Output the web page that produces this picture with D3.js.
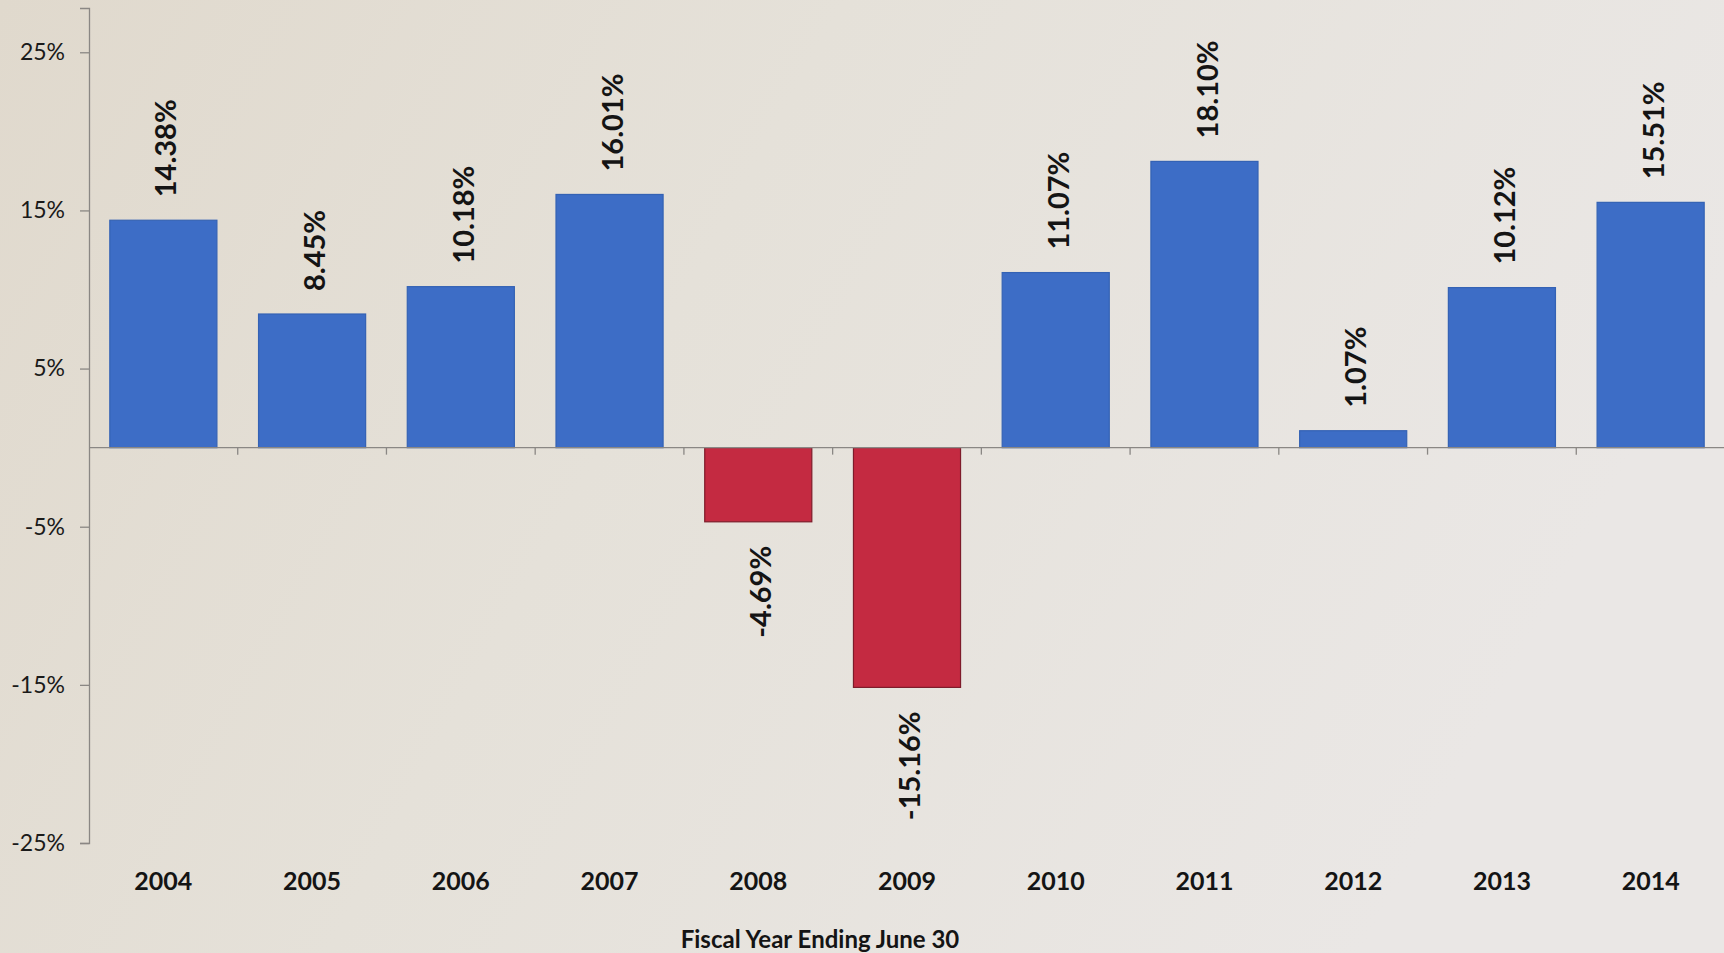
<!DOCTYPE html>
<html>
<head>
<meta charset="utf-8">
<script src="https://cdn.jsdelivr.net/npm/d3@7"></script>
<style>
  html, body { margin: 0; padding: 0; }
  body { width: 1724px; height: 953px; overflow: hidden; }
  svg { display: block; }
</style>
</head>
<body>
<svg id="chart" width="1724" height="953"></svg>
<script>
// Annual fiscal-year returns (percent)
const years = ["2004", "2005", "2006", "2007", "2008", "2009", "2010", "2011", "2012", "2013", "2014"];
const returns = [14.38, 8.45, 10.18, 16.01, -4.69, -15.16, 11.07, 18.10, 1.07, 10.12, 15.51];
const yTicks = [-25, -15, -5, 5, 15, 25];
const xTitle = "Fiscal Year Ending June 30";

const width = 1724, height = 953;
const svg = d3.select("#chart");

// Paper-like backdrop
const defs = svg.append("defs");
const grad = defs.append("linearGradient").attr("id", "bg").attr("x1", 0).attr("x2", 1).attr("y1", 0).attr("y2", 0.3);
grad.append("stop").attr("offset", "0%").attr("stop-color", "#e0d9cd");
grad.append("stop").attr("offset", "45%").attr("stop-color", "#e5e1d9");
grad.append("stop").attr("offset", "100%").attr("stop-color", "#eae7e5");
svg.append("rect").attr("width", width).attr("height", height).attr("fill", "url(#bg)");

const plotLeft = 89, plotRight = 1725;
const y = d3.scaleLinear().domain([-25, 27.8]).range([843, 8]);
const x = d3.scaleBand().domain(years).range([plotLeft, plotRight]).paddingInner(0.28).paddingOuter(0.14);

// Vertical value axis
const yAxis = svg.append("g")
  .attr("transform", `translate(${plotLeft},0)`)
  .call(d3.axisLeft(y).tickValues(yTicks).tickSize(9).tickPadding(15).tickFormat(d => d + "%"));
yAxis.select(".domain").attr("stroke", "#8a8784").attr("stroke-width", 1.3);
yAxis.selectAll(".tick line").attr("stroke", "#8a8784").attr("stroke-width", 1.3);
yAxis.selectAll(".tick text")
  .attr("font-family", "Lato, 'Open Sans', sans-serif")
  .attr("font-size", 23)
  .attr("fill", "#1a1a1a");

// Bars
const color = v => v >= 0 ? "#3d6dc6" : "#c42a41";
const stroke = v => v >= 0 ? "#3462b4" : "#7e1b2a";
svg.append("g").selectAll("rect")
  .data(years.map((yr, i) => ({ yr, v: returns[i] })))
  .join("rect")
  .attr("x", d => x(d.yr))
  .attr("width", x.bandwidth())
  .attr("y", d => y(Math.max(0, d.v)))
  .attr("height", d => Math.abs(y(d.v) - y(0)))
  .attr("fill", d => color(d.v))
  .attr("stroke", d => stroke(d.v))
  .attr("stroke-width", 1.2);

// Zero line with category-boundary ticks
const zeroAxis = svg.append("g");
zeroAxis.append("line")
  .attr("x1", plotLeft).attr("x2", plotRight)
  .attr("y1", y(0)).attr("y2", y(0))
  .attr("stroke", "#8a8784").attr("stroke-width", 1.3);
const half = x.step() * x.paddingInner() / 2;
zeroAxis.selectAll("line.tk")
  .data(years.slice(1))
  .join("line")
  .attr("class", "tk")
  .attr("x1", d => x(d) - half).attr("x2", d => x(d) - half)
  .attr("y1", y(0)).attr("y2", y(0) + 7)
  .attr("stroke", "#8a8784").attr("stroke-width", 1.3);

// Category labels along the bottom
const xAxis = svg.append("g")
  .attr("transform", `translate(0,${y(-25)})`)
  .call(d3.axisBottom(x).tickSize(0).tickPadding(29));
xAxis.select(".domain").remove();
xAxis.selectAll(".tick text")
  .attr("font-family", "Lato, 'Open Sans', sans-serif")
  .attr("font-weight", "bold")
  .attr("font-size", 25)
  .attr("fill", "#141414");

// Rotated value labels
const fmt = v => v.toFixed(2) + "%";
svg.append("g").selectAll("text")
  .data(years.map((yr, i) => ({ yr, v: returns[i] })))
  .join("text")
  .attr("transform", d => {
    const cx = x(d.yr) + x.bandwidth() / 2;
    const ty = d.v >= 0 ? y(d.v) - 23 : y(d.v) + 24;
    return `translate(${cx},${ty}) rotate(-90)`;
  })
  .attr("text-anchor", d => d.v >= 0 ? "start" : "end")
  .attr("dy", "0.45em")
  .attr("font-family", "Lato, 'Open Sans', sans-serif")
  .attr("font-weight", "bold")
  .attr("font-size", 29)
  .attr("fill", "#141414")
  .text(d => fmt(d.v));

// Axis title
svg.append("text")
  .attr("x", 820).attr("y", 948)
  .attr("text-anchor", "middle")
  .attr("font-family", "Lato, 'Open Sans', sans-serif")
  .attr("font-weight", "bold")
  .attr("font-size", 24)
  .attr("fill", "#141414")
  .text(xTitle);
</script>
</body>
</html>
